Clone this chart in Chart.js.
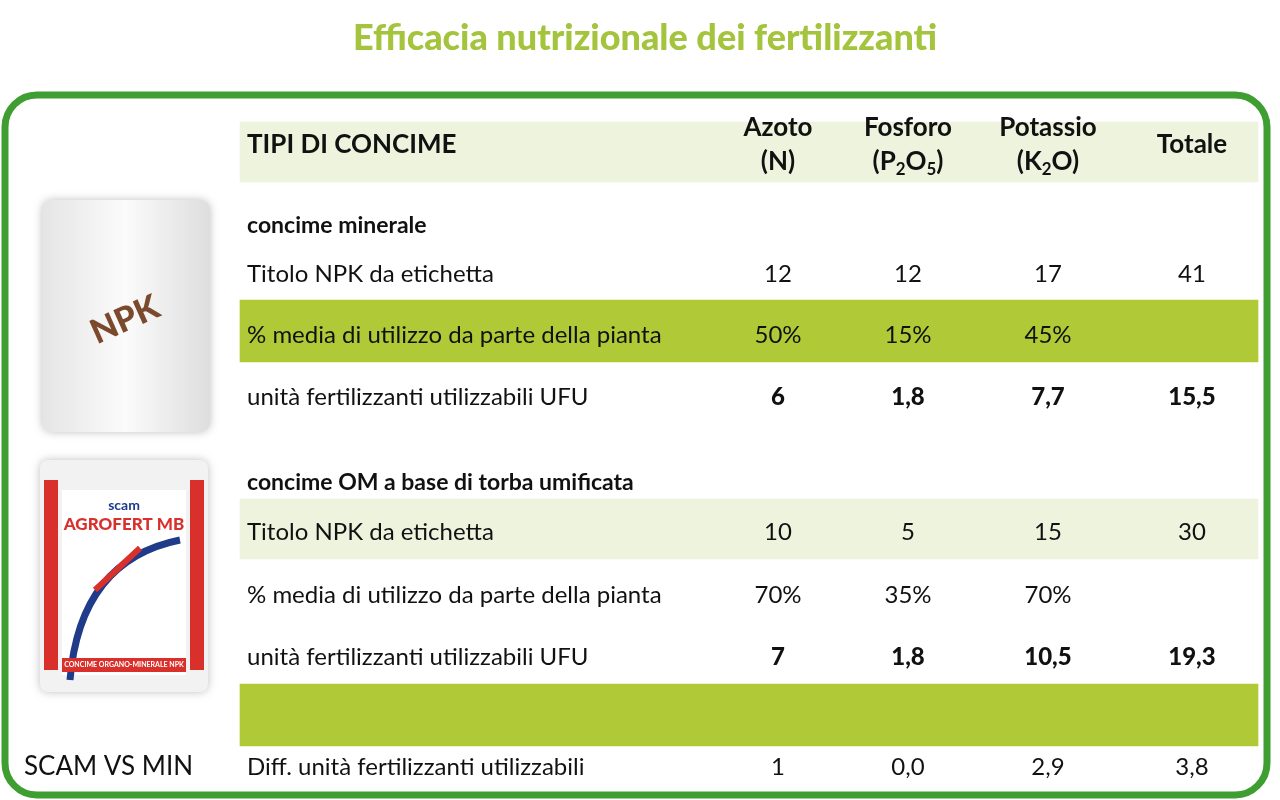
<!DOCTYPE html>
<html><head><meta charset="utf-8">
<script src="https://cdn.jsdelivr.net/npm/chart.js@4"></script>
<style>html,body{margin:0;padding:0;background:#fff}#c{display:block}</style>
</head><body>
<canvas id="c" width="1280" height="800"></canvas>
<script>
const title = "Efficacia nutrizionale dei fertilizzanti";
const columns = ["Azoto", "Fosforo", "Potassio", "Totale"];
const groups = ["concime minerale", "concime OM a base di torba umificata"];
const rowLabels = ["Titolo NPK da etichetta", "% media di utilizzo da parte della pianta", "unità fertilizzanti utilizzabili UFU"];
const mineralTitolo = ["12", "12", "17", "41"];
const mineralUtilizzo = ["50%", "15%", "45%", ""];
const mineralUFU = ["6", "1,8", "7,7", "15,5"];
const omTitolo = ["10", "5", "15", "30"];
const omUtilizzo = ["70%", "35%", "70%", ""];
const omUFU = ["7", "1,8", "10,5", "19,3"];
const diffLabel = "SCAM VS MIN";
const diffRowLabel = "Diff. unità fertilizzanti utilizzabili";
const diffValues = ["1", "0,0", "2,9", "3,8"];

// layout
const colX = [778, 908, 1048, 1192];
const rowY = [274, 335, 397, 532, 595, 657, 767];
const LIGHT = "#eef3de", GREEN = "#b0ca37", FONT = "Lato, 'Open Sans', sans-serif";

const bands = [
  {y: 272, h: 60, c: LIGHT, x0: 240}, {y: 393, h: 62, c: GREEN, x0: 240},
  {y: 529, h: 60, c: LIGHT, x0: 240}, {y: 653, h: 62, c: GREEN, x0: 240},
  {y: 759, h: 64, c: GREEN, x0: 8}
];

function txt(ctx, s, x, y, size, weight, align, color) {
  ctx.font = `${weight} ${size}px ${FONT}`;
  ctx.textAlign = align; ctx.textBaseline = "middle"; ctx.fillStyle = color || "#111";
  ctx.fillText(s, x, y);
}
function sub(ctx, parts, cx, y, size) {
  let w = 0;
  parts.forEach(p => { ctx.font = `bold ${p[1] ? size * 0.65 : size}px ${FONT}`; w += ctx.measureText(p[0]).width; });
  let x = cx - w / 2;
  parts.forEach(p => {
    const s = p[1] ? size * 0.65 : size;
    ctx.font = `bold ${s}px ${FONT}`; ctx.textAlign = "left"; ctx.textBaseline = "middle"; ctx.fillStyle = "#111";
    ctx.fillText(p[0], x, p[1] ? y + size * 0.3 : y);
    x += ctx.measureText(p[0]).width;
  });
}
function rr(ctx, x, y, w, h, r) {
  ctx.beginPath(); ctx.moveTo(x + r, y); ctx.arcTo(x + w, y, x + w, y + h, r); ctx.arcTo(x + w, y + h, x, y + h, r);
  ctx.arcTo(x, y + h, x, y, r); ctx.arcTo(x, y, x + w, y, r); ctx.closePath();
}

const tablePlugin = {
  id: "tablePlugin",
  beforeDatasetsDraw(chart) {
    const ctx = chart.ctx; ctx.save();
    txt(ctx, title, 645, 38, 36, "900", "center", "#a3c43c");
    ctx.restore();
  },
  afterDatasetsDraw(chart) {
    const ctx = chart.ctx, xs = chart.scales.x, ys = chart.scales.y;
    ctx.save();
    ctx.strokeStyle = "#3f9e31"; ctx.lineWidth = 7;
    rr(ctx, xs.getPixelForValue(5), ys.getPixelForValue(95), 1262, 700, 32); ctx.stroke();
    txt(ctx, "TIPI DI CONCIME", 247, 145, 26, "bold", "left");
    txt(ctx, "Azoto", colX[0], 128, 26, "bold", "center"); txt(ctx, "(N)", colX[0], 162, 26, "bold", "center");
    txt(ctx, "Fosforo", colX[1], 128, 26, "bold", "center");
    sub(ctx, [["(P", 0], ["2", 1], ["O", 0], ["5", 1], [")", 0]], colX[1], 162, 26);
    txt(ctx, "Potassio", colX[2], 128, 26, "bold", "center");
    sub(ctx, [["(K", 0], ["2", 1], ["O)", 0]], colX[2], 162, 26);
    txt(ctx, columns[3], colX[3], 145, 26, "bold", "center");
    txt(ctx, groups[0], 247, 226, 23, "bold", "left");
    txt(ctx, groups[1], 247, 483, 23, "bold", "left");
    const data = [mineralTitolo, mineralUtilizzo, mineralUFU, omTitolo, omUtilizzo, omUFU];
    data.forEach((vals, i) => {
      const y = ys.getPixelForValue(rowY[i]);
      const bold = i % 3 === 2;
      txt(ctx, rowLabels[i % 3], 247, y, 24, "normal", "left");
      vals.forEach((v, j) => txt(ctx, v, xs.getPixelForValue(colX[j]), y, 24, bold ? "900" : "normal", "center"));
    });
    const y = ys.getPixelForValue(rowY[6]);
    txt(ctx, diffLabel, 24, y, 26, "normal", "left");
    txt(ctx, diffRowLabel, 247, y, 24, "normal", "left");
    diffValues.forEach((v, j) => txt(ctx, v, xs.getPixelForValue(colX[j]), y, 24, "normal", "center"));
    // bag 1
    let g = ctx.createLinearGradient(40, 0, 210, 0);
    g.addColorStop(0, "#e4e4e4"); g.addColorStop(0.5, "#fbfbfb"); g.addColorStop(1, "#dedede");
    ctx.fillStyle = g; ctx.shadowColor = "rgba(0,0,0,0.25)"; ctx.shadowBlur = 8;
    rr(ctx, 42, 200, 168, 232, 10); ctx.fill(); ctx.shadowBlur = 0;
    ctx.save(); ctx.translate(125, 320); ctx.rotate(-0.42);
    txt(ctx, "NPK", 0, 0, 34, "900", "center", "#7b4a2c"); ctx.restore();
    // bag 2
    ctx.fillStyle = "#f2f2f2"; ctx.shadowColor = "rgba(0,0,0,0.25)"; ctx.shadowBlur = 8;
    rr(ctx, 40, 460, 168, 232, 8); ctx.fill(); ctx.shadowBlur = 0;
    ctx.fillStyle = "#d9302c"; ctx.fillRect(44, 480, 14, 190); ctx.fillRect(190, 480, 14, 190);
    ctx.fillStyle = "#fff"; ctx.fillRect(62, 490, 124, 185);
    txt(ctx, "scam", 124, 505, 14, "bold", "center", "#1f3b8a");
    txt(ctx, "AGROFERT MB", 124, 525, 17, "900", "center", "#d9302c");
    ctx.strokeStyle = "#1f3b8a"; ctx.lineWidth = 7; ctx.beginPath();
    ctx.moveTo(70, 680); ctx.quadraticCurveTo(80, 560, 180, 540); ctx.stroke();
    ctx.strokeStyle = "#d9302c"; ctx.lineWidth = 6; ctx.beginPath();
    ctx.moveTo(95, 590); ctx.lineTo(140, 548); ctx.stroke();
    ctx.fillStyle = "#d9302c"; ctx.fillRect(62, 658, 124, 14);
    txt(ctx, "CONCIME ORGANO-MINERALE NPK", 124, 665, 7, "bold", "center", "#fff");
    ctx.restore();
  }
};

new Chart(document.getElementById("c"), {
  type: "bar",
  data: {
    datasets: bands.map(b => ({
      data: [{x: [b.x0, 1258], y: b.y}],
      backgroundColor: b.c, barThickness: b.h, borderWidth: 0
    }))
  },
  options: {
    indexAxis: "y", responsive: false, animation: false,
    layout: {padding: 0},
    plugins: {legend: {display: false}, tooltip: {enabled: false}},
    scales: {
      x: {type: "linear", min: 0, max: 1280, display: false, offset: false},
      y: {type: "linear", min: 0, max: 800, reverse: true, display: false, offset: false}
    }
  },
  plugins: [tablePlugin]
});
</script>
</body></html>
